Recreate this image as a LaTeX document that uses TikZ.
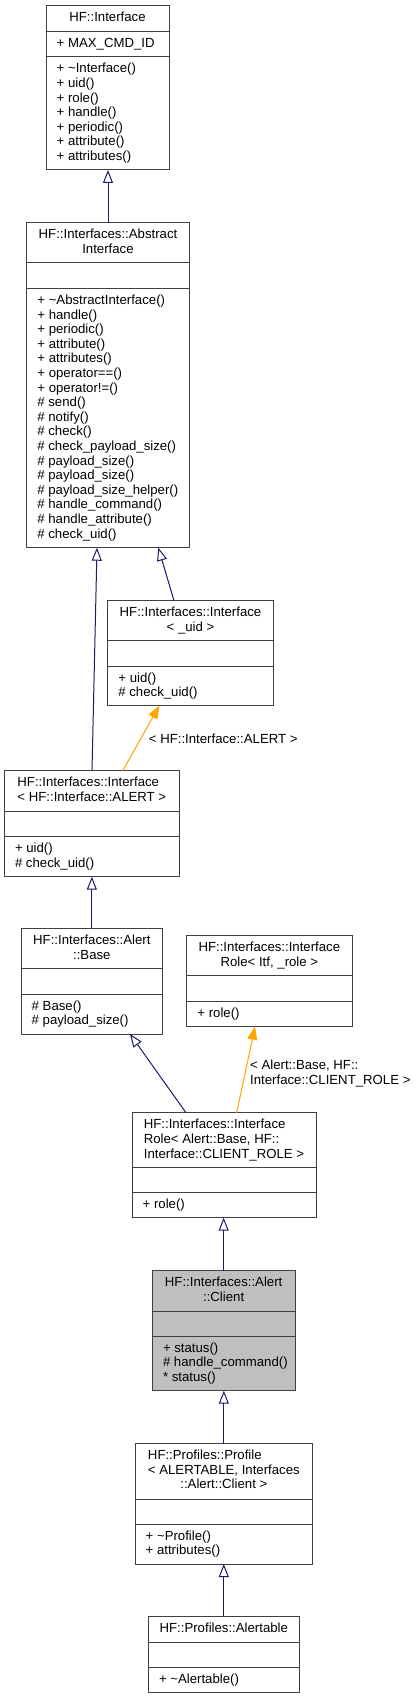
\documentclass[tikz,border=0pt]{standalone}
\usepackage{fontspec}
\setmainfont{Liberation Sans}
\usepackage{tikz}
\usetikzlibrary{arrows.meta,calc,positioning}
\definecolor{boxgray}{RGB}{64,64,64}
\definecolor{focusgray}{RGB}{191,191,191}
\definecolor{edgeblue}{RGB}{25,25,112}
\definecolor{edgeorange}{RGB}{255,165,0}
\tikzset{
    classbox/.style={rectangle, draw=boxgray, line width=1pt, fill=white, inner sep=0pt, outer sep=0pt, anchor=north west},
    classtitle/.style={inner sep=0pt, anchor=north, align=center},
    classmember/.style={inner sep=0pt, anchor=north west, align=left},
    divider/.style={draw=boxgray, line width=1pt},
    inherit/.style={draw=edgeblue, line width=1pt, -{Triangle[open, length=13pt, width=10pt]}},
    templ/.style={draw=edgeorange, line width=1pt, -{Triangle[length=13pt, width=10pt]}},
    edgelabel/.style={inner sep=0pt, anchor=north west, align=left},
}
% name, x, y, width, height, divider 1, divider 2, title, operations
\newcommand{\umlclass}[9]{%
    \node[classbox, minimum width=#4pt, minimum height=#5pt] (#1) at (#2,#3) {};
    \draw[divider] (#1.west |- 0,#6) -- (#1.east |- 0,#6);
    \draw[divider] (#1.west |- 0,#7) -- (#1.east |- 0,#7);
    \node[classtitle] (#1-title) at ($(#1.north)+(0,5.8)$) {\strut #8};
    \node[classmember] (#1-ops) at ($(#1.west |- 0,#7)+(10.5,5.8)$) {\strut #9};
}
\newcommand{\lefttitle}[1]{\begin{tabular}{@{}l@{}}#1\end{tabular}}

\begin{document}
\begin{tikzpicture}[x=1pt, y=-1pt, font=\fontsize{13.2}{14.6}\selectfont]
    \fill[white] (0,0) rectangle (417,1699);
    \useasboundingbox (0,0) rectangle (417,1699);

    % classes
    \umlclass{iface}{46}{5.7}{123}{164.3}{31.7}{56.7}{HF::Interface}
        {+ \textasciitilde Interface()\\+ uid()\\+ role()\\+ handle()\\+ periodic()\\+ attribute()\\+ attributes()}
    \node[classmember] (iface-attrs) at ($(iface.west |- 0,31.7)+(10.5,5.8)$) {\strut + MAX\_CMD\_ID};

    \umlclass{abstractif}{26.7}{222.7}{162.6}{325}{262.3}{288.3}{HF::Interfaces::Abstract\\Interface}
        {+ \textasciitilde AbstractInterface()\\+ handle()\\+ periodic()\\+ attribute()\\+ attributes()\\+ operator==()\\+ operator!=()\\\# send()\\\# notify()\\\# check()\\\# check\_payload\_size()\\\# payload\_size()\\\# payload\_size()\\\# payload\_size\_helper()\\\# handle\_command()\\\# handle\_attribute()\\\# check\_uid()}

    \umlclass{ifuid}{107.7}{600.7}{165.6}{105}{640.3}{666}{HF::Interfaces::Interface\\< \_uid >}
        {+ uid()\\\# check\_uid()}

    \umlclass{ifalert}{4.3}{770.7}{175}{106}{811.7}{836.7}{\lefttitle{HF::Interfaces::Interface\\< HF::Interface::ALERT >}}
        {+ uid()\\\# check\_uid()}

    \umlclass{alertbase}{21}{928.3}{141.7}{105.7}{968.7}{994}{HF::Interfaces::Alert\\::Base}
        {\# Base()\\\# payload\_size()}

    \umlclass{ifrole}{186.7}{935.7}{165.3}{91}{975.7}{1001.7}{HF::Interfaces::Interface\\Role< Itf, \_role >}
        {+ role()}

    \umlclass{ifroleclient}{132}{1112.7}{184}{105}{1167.3}{1192.7}{\lefttitle{HF::Interfaces::Interface\\Role< Alert::Base, HF::\\Interface::CLIENT\_ROLE >}}
        {+ role()}

    \begin{scope}[classbox/.append style={fill=focusgray}]
    \umlclass{alertclient}{152.3}{1270.7}{142.7}{120}{1311}{1336}{HF::Interfaces::Alert\\::Client}
        {+ status()\\\# handle\_command()\\* status()}
    \end{scope}

    \umlclass{profile}{135}{1443.3}{177.7}{120.7}{1499}{1524}{\lefttitle{HF::Profiles::Profile\\< ALERTABLE, Interfaces\\\multicolumn{1}{@{}c@{}}{::Alert::Client >}}}
        {+ \textasciitilde Profile()\\+ attributes()}

    \umlclass{alertable}{148.3}{1616.7}{151}{76}{1642}{1667.3}{HF::Profiles::Alertable}
        {+ \textasciitilde Alertable()}

    % inheritance
    \draw[inherit] (abstractif.north) -- (abstractif.north |- iface.south);
    \draw[inherit] ([xshift=66.3pt]ifuid.north west) -- ([xshift=131.6pt]abstractif.south west);
    \draw[inherit] ([xshift=87.7pt]ifalert.north west) -- ([xshift=70.3pt]abstractif.south west);
    \draw[inherit] (alertbase.north) -- (alertbase.north |- ifalert.south);
    \draw[inherit] ([xshift=54pt]ifroleclient.north west) -- ([xshift=109pt]alertbase.south west);
    \draw[inherit] (alertclient.north) -- (alertclient.north |- ifroleclient.south);
    \draw[inherit] (profile.north) -- (profile.north |- alertclient.south);
    \draw[inherit] (alertable.north) -- (alertable.north |- profile.south);

    % template instances
    \draw[templ] ([xshift=118.4pt]ifalert.north west) -- ([xshift=51.6pt]ifuid.south west);
    \node[edgelabel] (alertlabel) at (148.7,732.8) {\strut < HF::Interface::ALERT >};
    \draw[templ] ([xshift=104.7pt]ifroleclient.north west) -- ([xshift=68.3pt]ifrole.south west);
    \node[edgelabel] (rolelabel) at (250,1059.4) {\strut < Alert::Base, HF::\\Interface::CLIENT\_ROLE >};
\end{tikzpicture}
\end{document}
